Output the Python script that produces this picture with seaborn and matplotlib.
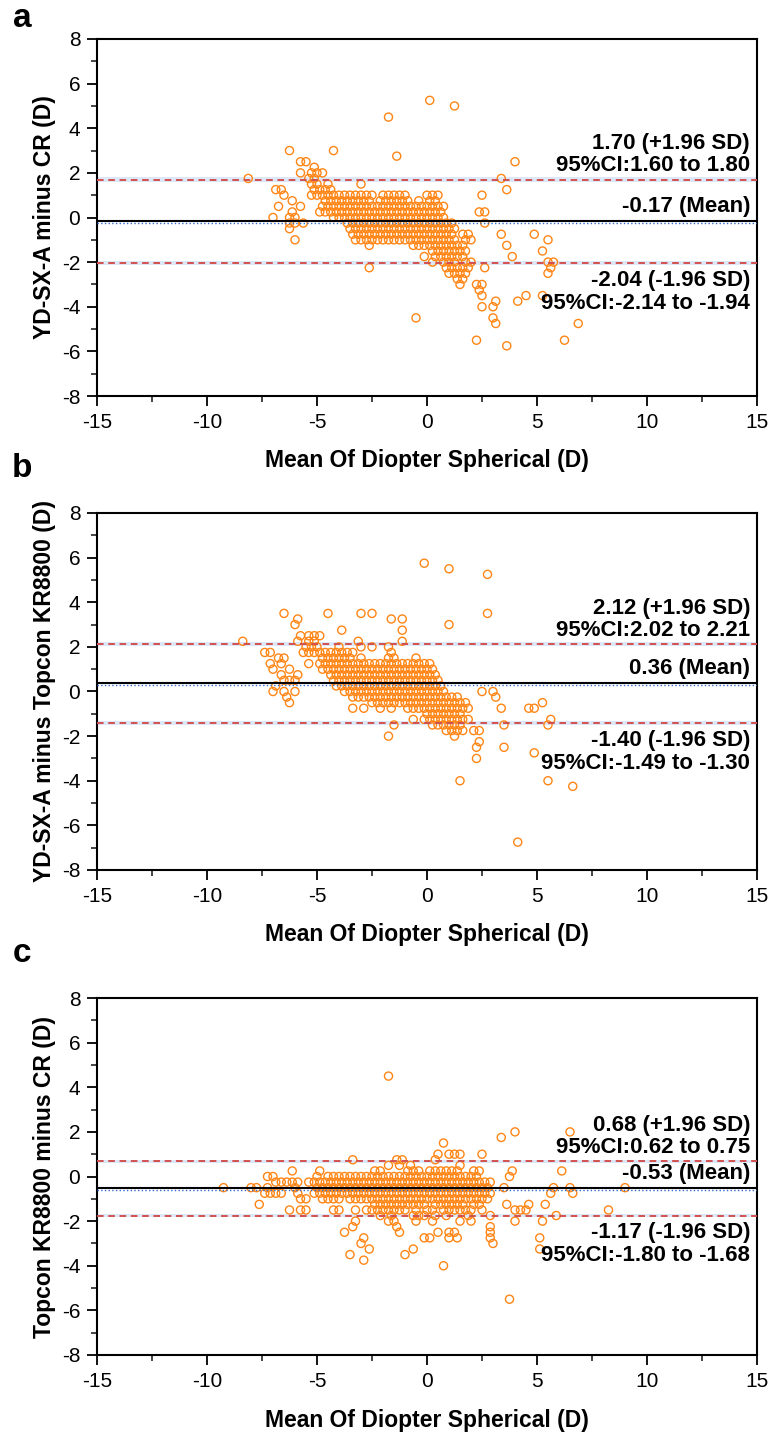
import numpy as np
import pandas as pd
import matplotlib
matplotlib.use("Agg")
import matplotlib.pyplot as plt
from matplotlib.ticker import MultipleLocator
import seaborn as sns

# ---------------- data ----------------
# Panel a: YD-SX-A minus CR  -- rows of difference values, with the means at each row
A_LEVELS = [5.25, 5.0, 4.5, 3.0, 2.75, 2.5, 2.25, 2.0, 1.75, 1.5, 1.25, 1.0, 0.75, 0.5, 0.25, 0.0,
            -0.25, -0.5, -0.75, -1.0, -1.25, -1.5, -1.75, -2.0, -2.25, -2.5, -2.75, -3.0,
            -3.25, -3.5, -3.75, -4.0, -4.5, -4.75, -5.5, -5.75]
A_XS = [
    [0.125], [1.25], [-1.75], [-6.25, -4.25], [-1.375], [-5.75, -5.5, 4.0], [-5.125],
    [-5.75, -5.25, -5.0, -4.75],
    [-8.125, -5.375, -5.125, 3.375],
    [-5.25, -5.0, -4.5, -3.0],
    [-6.875, -6.625, -5.125, -4.875, -4.625, -4.375, 3.625],
    [-6.5, -5.25, -5.0, -4.75, -4.5, -4.25, -4.0, -3.75, -3.5, -3.25, -3.0, -2.75, -2.5,
     -2.0, -1.75, -1.5, -1.25, -1.0, 0.0, 0.25, 0.5, 2.5],
    [-6.125, -4.625, -4.375, -4.125, -3.875, -3.625, -3.375, -3.125, -2.875, -2.625,
     -2.125, -1.875, -1.625, -1.375, -1.125, -0.875, -0.375, 0.125, 0.375],
    [-6.75, -5.75, -4.75, -4.5, -4.25, -4.0, -3.75, -3.5, -3.25, -3.0, -2.75, -2.5, -2.25,
     -2.0, -1.75, -1.5, -1.25, -1.0, -0.75, -0.5, -0.25, 0.0, 0.25, 0.5, 0.75],
    [-6.125, -4.875, -4.625, -4.375, -4.125, -3.875, -3.625, -3.375, -3.125, -2.875,
     -2.625, -2.375, -2.125, -1.875, -1.625, -1.375, -1.125, -0.875, -0.625, -0.375,
     -0.125, 0.125, 0.375, 0.625, 2.375, 2.625],
    [-7.0, -6.25, -6.0, -4.25, -4.0, -3.75, -3.5, -3.25, -3.0, -2.75, -2.5, -2.25, -2.0,
     -1.75, -1.5, -1.25, -1.0, -0.75, -0.5, -0.25, 0.0, 0.25, 0.5, 0.75],
    [-6.25, -6.0, -5.625, -3.625, -3.375, -3.125, -2.875, -2.625, -2.375, -2.125, -1.875,
     -1.625, -1.375, -1.125, -0.875, -0.625, -0.375, -0.125, 0.125, 0.375, 0.625, 0.875,
     1.125, 2.625],
    [-6.25, -3.5, -3.25, -3.0, -2.75, -2.5, -2.25, -2.0, -1.75, -1.5, -1.25, -1.0, -0.75,
     -0.5, -0.25, 0.0, 0.25, 0.5, 0.75, 1.0, 1.25],
    [-3.375, -3.125, -2.875, -2.625, -2.375, -2.125, -1.875, -1.625, -1.375, -1.125,
     -0.875, -0.625, -0.375, -0.125, 0.125, 0.375, 0.625, 0.875, 1.125, 1.625, 1.875,
     3.375, 4.875],
    [-6.0, -3.25, -3.0, -2.75, -2.5, -2.25, -2.0, -1.75, -1.5, -1.25, -1.0, -0.75, -0.5,
     -0.25, 0.0, 0.25, 0.5, 0.75, 1.0, 1.25, 1.75, 2.0, 5.5],
    [-2.625, -0.625, -0.375, -0.125, 0.125, 0.375, 0.625, 0.875, 1.125, 1.375, 1.625, 3.625],
    [0.25, 0.5, 0.75, 1.0, 1.25, 1.5, 1.75, 5.25],
    [-0.125, 0.375, 0.625, 0.875, 1.125, 1.375, 1.625, 3.875],
    [0.25, 0.75, 1.0, 1.25, 1.75, 2.0, 5.5, 5.75],
    [-2.625, 0.875, 1.125, 1.375, 1.625, 1.875, 2.625, 5.625],
    [1.0, 1.25, 1.5, 1.75, 5.5],
    [1.375, 1.625],
    [1.5, 2.25, 2.5],
    [2.375],
    [2.5, 4.5, 5.25],
    [3.125, 4.125],
    [2.5, 3.0],
    [-0.5, 3.0],
    [3.125, 6.875],
    [2.25, 6.25],
    [3.625],
]

# Panel b: YD-SX-A minus Topcon KR8800
B_LEVELS = [5.75, 5.5, 5.25, 3.5, 3.25, 3.0, 2.75, 2.5, 2.25, 2.0, 1.75, 1.5, 1.25, 1.0,
            0.75, 0.5, 0.25, 0.0, -0.25, -0.5, -0.75, -1.0, -1.25, -1.5, -1.75, -2.0,
            -2.25, -2.5, -2.75, -3.0, -4.0, -4.25, -6.75]
B_XS = [
    [-0.125], [1.0], [2.75],
    [-6.5, -4.5, -3.0, -2.5, 2.75],
    [-5.875, -1.625, -1.125],
    [-6.0, 1.0],
    [-3.875, -1.125],
    [-5.75, -5.375, -5.125, -4.875],
    [-8.375, -5.875, -5.375, -5.125, -3.125, -1.125],
    [-5.5, -5.25, -5.0, -4.0, -3.0, -2.5, -1.75],
    [-7.375, -7.125, -5.625, -5.375, -5.125, -4.875, -4.625, -4.375, -4.125, -3.875,
     -3.625, -3.375, -1.625],
    [-6.75, -6.5, -4.75, -4.5, -4.25, -4.0, -3.75, -3.5, -3.0, -1.75, -1.5, -0.5],
    [-7.125, -6.625, -5.375, -4.875, -4.625, -4.375, -4.125, -3.875, -3.625, -3.375,
     -3.125, -2.875, -2.625, -2.375, -2.125, -1.875, -1.625, -1.375, -1.125, -0.875,
     -0.625, -0.375, -0.125, 0.125],
    [-7.0, -6.25, -4.75, -4.5, -4.25, -4.0, -3.75, -3.5, -3.25, -3.0, -2.75, -2.5, -2.25,
     -2.0, -1.75, -1.5, -1.25, -1.0, -0.75, -0.5, -0.25, 0.0, 0.25],
    [-6.625, -5.875, -4.375, -4.125, -3.875, -3.625, -3.375, -3.125, -2.875, -2.625,
     -2.375, -2.125, -1.875, -1.625, -1.375, -1.125, -0.875, -0.625, -0.375, -0.125,
     0.125, 0.375],
    [-6.5, -6.25, -6.0, -4.25, -4.0, -3.75, -3.5, -3.25, -3.0, -2.75, -2.5, -2.25, -2.0,
     -1.75, -1.5, -1.25, -1.0, -0.75, -0.5, -0.25, 0.0, 0.25, 0.5],
    [-6.875, -4.125, -3.875, -3.625, -3.375, -3.125, -2.875, -2.625, -2.375, -2.125,
     -1.875, -1.625, -1.375, -1.125, -0.875, -0.625, -0.375, -0.125, 0.125, 0.375, 0.625],
    [-7.0, -6.5, -6.0, -3.75, -3.5, -3.25, -3.0, -2.75, -2.5, -2.25, -2.0, -1.75, -1.5,
     -1.25, -1.0, -0.75, -0.5, -0.25, 0.0, 0.25, 0.5, 0.75, 2.5, 3.0],
    [-6.375, -3.375, -3.125, -2.875, -2.625, -2.375, -2.125, -1.875, -1.625, -1.375,
     -1.125, -0.875, -0.625, -0.375, -0.125, 0.125, 0.375, 0.625, 0.875, 1.125, 1.375, 3.125],
    [-6.25, -2.5, -2.25, -2.0, -1.75, -1.5, -1.25, -1.0, -0.75, -0.5, -0.25, 0.0, 0.25,
     0.5, 0.75, 1.0, 1.25, 1.5, 1.75, 5.25],
    [-3.375, -2.875, -2.125, -1.625, -0.875, -0.625, -0.375, -0.125, 0.125, 0.375, 0.625,
     0.875, 1.125, 1.375, 1.625, 1.875, 3.375, 4.625, 4.875],
    [0.0, 0.25, 0.5, 0.75, 1.0, 1.25, 1.5],
    [-0.625, -0.125, 0.125, 0.375, 0.625, 0.875, 1.125, 1.375, 1.625, 1.875, 5.625],
    [-1.5, 0.25, 0.5, 0.75, 1.0, 1.25, 1.5, 3.5, 5.5],
    [0.875, 1.125, 1.375, 1.625, 2.125, 2.375],
    [-1.75, 1.25],
    [2.375],
    [2.25, 3.5],
    [4.875],
    [2.25],
    [1.5, 5.5],
    [6.625],
    [4.125],
]

# Panel c: Topcon KR8800 minus CR
C_LEVELS = [4.5, 2.0, 1.75, 1.5, 1.0, 0.75, 0.5, 0.25, 0.0, -0.25, -0.5, -0.75, -1.0,
            -1.25, -1.5, -1.75, -2.0, -2.25, -2.5, -2.75, -3.0, -3.25, -3.5, -3.75,
            -4.0, -5.5]
C_XS = [
    [-1.75],
    [4.0, 6.5],
    [3.375],
    [0.75],
    [0.5, 1.0, 1.25, 1.5, 2.5],
    [-3.375, -1.375, -1.125, 0.375],
    [-1.75, -1.25, -0.75, 1.5],
    [-6.125, -4.875, -2.375, -2.125, -0.875, -0.625, -0.375, 0.125, 0.375, 0.625, 0.875,
     1.125, 1.375, 2.125, 2.375, 3.875, 6.125],
    [-7.25, -7.0, -5.0, -4.5, -4.25, -4.0, -3.75, -3.5, -3.25, -3.0, -2.75, -2.5, -2.25,
     -2.0, -1.75, -1.5, -1.25, -1.0, -0.75, -0.5, -0.25, 0.0, 0.25, 0.5, 0.75, 1.0, 1.25,
     1.5, 1.75, 2.0, 2.25, 3.75],
    [-6.875, -6.625, -6.375, -6.125, -5.875, -5.375, -5.125, -4.875, -4.625, -4.375,
     -4.125, -3.875, -3.625, -3.375, -3.125, -2.875, -2.625, -2.375, -2.125, -1.875,
     -1.625, -1.375, -1.125, -0.875, -0.625, -0.375, -0.125, 0.125, 0.375, 0.625, 0.875,
     1.125, 1.375, 1.625, 1.875, 2.125, 2.375, 2.625, 2.875],
    [-9.25, -8.0, -7.75, -7.25, -6.0, -5.0, -4.75, -4.5, -4.25, -4.0, -3.75, -3.5, -3.25,
     -3.0, -2.75, -2.5, -2.25, -2.0, -1.75, -1.5, -1.25, -1.0, -0.75, -0.5, -0.25, 0.0,
     0.25, 0.5, 0.75, 1.0, 1.25, 1.5, 1.75, 2.0, 2.25, 2.5, 2.75, 3.5, 5.75, 6.5, 9.0],
    [-7.375, -7.125, -6.875, -6.625, -5.875, -5.125, -4.875, -4.625, -4.375, -4.125,
     -3.875, -3.625, -3.375, -3.125, -2.875, -2.625, -2.375, -2.125, -1.875, -1.625,
     -1.375, -1.125, -0.875, -0.625, -0.375, -0.125, 0.125, 0.375, 0.625, 0.875, 1.125,
     1.375, 1.625, 1.875, 2.125, 2.375, 2.625, 2.875, 5.625, 6.625],
    [-5.75, -5.5, -4.75, -4.5, -4.25, -4.0, -3.5, -3.25, -3.0, -2.75, -2.5, -2.25, -2.0,
     -1.75, -1.5, -1.25, -1.0, -0.75, -0.5, -0.25, 0.0, 0.25, 0.5, 0.75, 1.0, 1.25, 1.5,
     1.75, 2.0, 2.25, 2.5, 2.75],
    [-7.625, -2.375, -2.125, -1.875, -1.625, -1.375, -1.125, -0.875, -0.625, -0.375,
     -0.125, 0.375, 0.625, 0.875, 1.125, 1.375, 1.625, 2.125, 2.375, 3.625, 4.625, 5.375],
    [-6.25, -5.75, -5.5, -4.25, -4.0, -3.25, -2.75, -2.5, -2.25, -2.0, -1.75, -1.5, -1.25,
     -1.0, -0.5, 0.0, 0.25, 0.75, 1.0, 1.25, 1.5, 1.75, 2.0, 2.5, 4.0, 4.25, 4.5, 8.25],
    [-2.125, -1.625, -0.625, -0.375, -0.125, 0.375, 0.875, 1.875, 2.875, 5.875],
    [-3.25, -1.75, -1.5, -0.5, 0.25, 1.5, 2.0, 4.0, 5.25],
    [-3.375, -1.375, 2.875],
    [-3.75, -1.25, 0.5, 1.0, 1.25, 2.875],
    [-2.875, -0.125, 0.125, 1.0, 1.375, 2.875, 5.125],
    [-3.0, 3.0],
    [-2.625, -0.625, 5.125],
    [-3.5, -1.0],
    [-2.875],
    [0.75],
    [3.75],
]

# Summary statistics (mean, limits of agreement and their 95% CI)
MEANS = [-0.17, 0.36, -0.53]
UPPER = [1.70, 2.12, 0.68]
LOWER = [-2.04, -1.40, -1.75]
UPPER_CI = [(1.60, 1.80), (2.02, 2.21), (0.62, 0.75)]
LOWER_CI = [(-2.14, -1.94), (-1.49, -1.30), (-1.80, -1.68)]
UPPER_TXT = [["1.70 (+1.96 SD)", "95%CI:1.60 to 1.80"],
             ["2.12 (+1.96 SD)", "95%CI:2.02 to 2.21"],
             ["0.68 (+1.96 SD)", "95%CI:0.62 to 0.75"]]
MEAN_TXT = ["-0.17 (Mean)", "0.36 (Mean)", "-0.53 (Mean)"]
LOWER_TXT = [["-2.04 (-1.96 SD)", "95%CI:-2.14 to -1.94"],
             ["-1.40 (-1.96 SD)", "95%CI:-1.49 to -1.30"],
             ["-1.17 (-1.96 SD)", "95%CI:-1.80 to -1.68"]]
YLABELS = ["YD-SX-A minus CR (D)", "YD-SX-A minus Topcon KR8800 (D)",
           "Topcon KR8800 minus CR (D)"]
XLABEL = "Mean Of Diopter Spherical (D)"
PANEL_LETTERS = ["a", "b", "c"]
X_TICKS = [-15, -10, -5, 0, 5, 10, 15]
Y_TICKS = [-8, -6, -4, -2, 0, 2, 4, 6, 8]


def to_frame(levels, xs):
    rows = []
    for lv, row in zip(levels, xs):
        for xv in row:
            rows.append((xv, lv))
    return pd.DataFrame(rows, columns=["mean", "diff"])


FRAMES = [to_frame(A_LEVELS, A_XS), to_frame(B_LEVELS, B_XS), to_frame(C_LEVELS, C_XS)]

# ---------------- style ----------------
sns.set_theme(style="ticks")
plt.rcParams["font.family"] = ["Liberation Sans", "DejaVu Sans"]
plt.rcParams["axes.unicode_minus"] = False
plt.rcParams["axes.linewidth"] = 1.5

W, H = 774, 1436
fig = plt.figure(figsize=(W / 100, H / 100), dpi=100)

ORANGE = "#FF8616"
RED = "#D2504F"
BAND = "#DCE7F7"
BLUE = "#2F6BC8"

AX_LEFT, AX_W, AX_H = 97, 660, 357
TOPS = [39, 513, 998]
LETTER_BASE = [27, 477, 962]

for i in range(3):
    top = TOPS[i]
    ax = fig.add_axes([AX_LEFT / W, 1 - (top + AX_H) / H, AX_W / W, AX_H / H])

    # CI bands and lines
    ax.axhspan(*UPPER_CI[i], color=BAND, lw=0, zorder=1)
    ax.axhspan(*LOWER_CI[i], color=BAND, lw=0, zorder=1)

    sns.scatterplot(data=FRAMES[i], x="mean", y="diff", ax=ax, marker="o", s=34,
                    facecolor="none", edgecolor=ORANGE, linewidth=1.0, zorder=3,
                    legend=False)

    ax.axhline(UPPER[i], color=RED, lw=1.4, ls=(0, (3.4, 2.4)), zorder=4)
    ax.axhline(LOWER[i], color=RED, lw=1.4, ls=(0, (3.4, 2.4)), zorder=4)
    ax.axhline(MEANS[i] - 0.06, color=BLUE, lw=1.0, ls=":", zorder=4)
    ax.axhline(MEANS[i], color="black", lw=1.5, zorder=5)

    ax.set_xlim(-15, 15)
    ax.set_ylim(-8, 8)
    ax.set_xticks(X_TICKS)
    ax.set_yticks(Y_TICKS)
    ax.xaxis.set_minor_locator(MultipleLocator(2.5))
    ax.yaxis.set_minor_locator(MultipleLocator(1))
    ax.tick_params(axis="both", which="major", direction="out", length=7, width=1.3,
                   labelsize=15, pad=5, colors="black")
    ax.tick_params(axis="both", which="minor", direction="out", length=4, width=1.2)
    ax.tick_params(top=False, right=False, which="both")
    for sp in ax.spines.values():
        sp.set_visible(True)
        sp.set_color("black")
        sp.set_linewidth(1.5)

    ax.set_xlabel(XLABEL, fontsize=16.5, fontweight="bold", color="black")
    ax.set_ylabel(YLABELS[i], fontsize=16.5, fontweight="bold", color="black")
    ax.xaxis.label.set_va("center")
    ax.yaxis.label.set_va("center")
    ax.xaxis.set_label_coords(0.5, -(461 - 396) / AX_H)
    ax.yaxis.set_label_coords((44 - AX_LEFT) / AX_W, 0.5)

    tr = ax.get_yaxis_transform()
    kw = dict(xycoords=tr, textcoords="offset points", ha="right", va="center",
              fontsize=16, fontweight="bold", color="black", zorder=6)
    ax.annotate(UPPER_TXT[i][0], xy=(1, UPPER[i]), xytext=(-5, 26), **kw)
    ax.annotate(UPPER_TXT[i][1], xy=(1, UPPER[i]), xytext=(-5, 10), **kw)
    ax.annotate(MEAN_TXT[i], xy=(1, MEANS[i]), xytext=(-5, 10.5), **kw)
    ax.annotate(LOWER_TXT[i][0], xy=(1, LOWER[i]), xytext=(-5, -12.5), **kw)
    ax.annotate(LOWER_TXT[i][1], xy=(1, LOWER[i]), xytext=(-5, -29), **kw)

    fig.text(22 / W, 1 - LETTER_BASE[i] / H, PANEL_LETTERS[i], ha="center",
             va="baseline", fontsize=24, fontweight="bold", color="black")

fig.savefig("out.png", dpi=100)
